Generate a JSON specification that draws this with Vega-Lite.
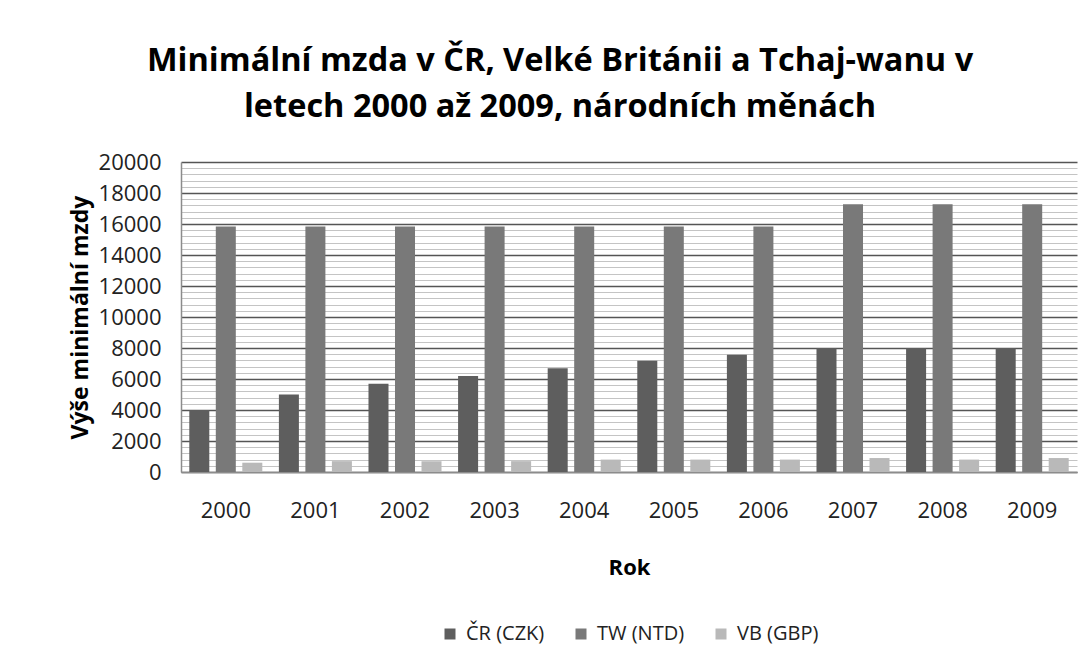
{
  "$schema": "https://vega.github.io/schema/vega-lite/v6.json",
  "autosize": {"type": "none"},
  "width": 896,
  "height": 310,
  "padding": {"left": 181, "top": 162, "right": 13, "bottom": 192},
  "background": "white",
  "title": {
    "text": ["Minimální mzda v ČR, Velké Británii a Tchaj-wanu v", "letech 2000 až 2009, národních měnách"],
    "font": "Open Sans",
    "fontSize": 32.5,
    "fontWeight": "bold",
    "color": "#000000",
    "anchor": "middle",
    "frame": "group",
    "dx": -69,
    "offset": 28,
    "lineHeight": 46
  },
  "data": {
    "values": [
      {"year": "2000", "series": "ČR (CZK)", "value": 4000},
      {"year": "2000", "series": "TW (NTD)", "value": 15840},
      {"year": "2000", "series": "VB (GBP)", "value": 600},
      {"year": "2001", "series": "ČR (CZK)", "value": 5000},
      {"year": "2001", "series": "TW (NTD)", "value": 15840},
      {"year": "2001", "series": "VB (GBP)", "value": 700},
      {"year": "2002", "series": "ČR (CZK)", "value": 5700},
      {"year": "2002", "series": "TW (NTD)", "value": 15840},
      {"year": "2002", "series": "VB (GBP)", "value": 700},
      {"year": "2003", "series": "ČR (CZK)", "value": 6200},
      {"year": "2003", "series": "TW (NTD)", "value": 15840},
      {"year": "2003", "series": "VB (GBP)", "value": 700},
      {"year": "2004", "series": "ČR (CZK)", "value": 6700},
      {"year": "2004", "series": "TW (NTD)", "value": 15840},
      {"year": "2004", "series": "VB (GBP)", "value": 800},
      {"year": "2005", "series": "ČR (CZK)", "value": 7185},
      {"year": "2005", "series": "TW (NTD)", "value": 15840},
      {"year": "2005", "series": "VB (GBP)", "value": 800},
      {"year": "2006", "series": "ČR (CZK)", "value": 7570},
      {"year": "2006", "series": "TW (NTD)", "value": 15840},
      {"year": "2006", "series": "VB (GBP)", "value": 800},
      {"year": "2007", "series": "ČR (CZK)", "value": 8000},
      {"year": "2007", "series": "TW (NTD)", "value": 17280},
      {"year": "2007", "series": "VB (GBP)", "value": 900},
      {"year": "2008", "series": "ČR (CZK)", "value": 8000},
      {"year": "2008", "series": "TW (NTD)", "value": 17280},
      {"year": "2008", "series": "VB (GBP)", "value": 800},
      {"year": "2009", "series": "ČR (CZK)", "value": 8000},
      {"year": "2009", "series": "TW (NTD)", "value": 17280},
      {"year": "2009", "series": "VB (GBP)", "value": 900}
    ]
  },
  "encoding": {
    "x": {
      "field": "year",
      "type": "ordinal",
      "scale": {"paddingInner": 0.185, "paddingOuter": 0.0925},
      "axis": {
        "title": "Rok",
        "labelAngle": 0,
        "labelFont": "Open Sans",
        "labelFontSize": 22,
        "labelColor": "#222222",
        "labelPadding": 28,
        "ticks": false,
        "tickSize": 0,
        "domainColor": "#8c8c8c",
        "domainWidth": 1.5,
        "titleFont": "Open Sans",
        "titleFontSize": 22,
        "titleFontWeight": "bold",
        "titleColor": "#000000",
        "titlePadding": 36,
        "grid": false
      }
    },
    "xOffset": {"field": "series", "type": "nominal", "scale": {"domain": ["ČR (CZK)", "TW (NTD)", "VB (GBP)"], "paddingInner": 0.245, "paddingOuter": 0}},
    "y": {
      "field": "value",
      "type": "quantitative",
      "scale": {"domain": [0, 20000], "nice": false}
    }
  },
  "layer": [
    {
      "mark": {"type": "bar", "opacity": 0},
      "encoding": {
        "y": {
          "field": "value",
          "type": "quantitative",
          "axis": {
            "values": [400, 800, 1200, 1600, 2400, 2800, 3200, 3600, 4400, 4800, 5200, 5600, 6400, 6800, 7200, 7600, 8400, 8800, 9200, 9600, 10400, 10800, 11200, 11600, 12400, 12800, 13200, 13600, 14400, 14800, 15200, 15600, 16400, 16800, 17200, 17600, 18400, 18800, 19200, 19600],
            "labels": false,
            "ticks": false,
            "domain": false,
            "title": null,
            "grid": true,
            "gridColor": "#c4c4c4",
            "gridWidth": 1,
            "gridOpacity": 1,
            "zindex": 0
          }
        }
      }
    },
    {
      "mark": {"type": "bar"},
      "encoding": {
        "y": {
          "field": "value",
          "type": "quantitative",
          "axis": {
            "title": "Výše minimální mzdy",
            "orient": "left",
            "values": [0, 2000, 4000, 6000, 8000, 10000, 12000, 14000, 16000, 18000, 20000],
            "format": "d",
            "labelFont": "Open Sans",
            "labelFontSize": 22,
            "labelColor": "#222222",
            "labelPadding": 20,
            "ticks": false,
            "tickSize": 0,
            "domainColor": "#8c8c8c",
            "domainWidth": 1.5,
            "grid": true,
            "gridColor": "#555555",
            "gridWidth": 1.6,
            "gridOpacity": 1,
            "titleFont": "Open Sans",
            "titleFontSize": 23,
            "titleFontWeight": "bold",
            "titleColor": "#000000",
            "titlePadding": 6,
            "zindex": 0
          }
        },
        "color": {
          "field": "series",
          "type": "nominal",
          "scale": {"domain": ["ČR (CZK)", "TW (NTD)", "VB (GBP)"], "range": ["#5e5e5e", "#797979", "#b9b9b9"]},
          "legend": {
            "title": null,
            "orient": "bottom",
            "direction": "horizontal",
            "symbolType": "square",
            "symbolSize": 121,
            "symbolStrokeWidth": 0,
            "labelFont": "Open Sans",
            "labelFontSize": 20,
            "labelColor": "#222222",
            "columnPadding": 26,
            "labelOffset": 6,
            "offset": 46
          }
        }
      }
    }
  ],
  "resolve": {"axis": {"y": "independent"}},
  "config": {
    "view": {"stroke": null},
    "legend": {"layout": {"bottom": {"anchor": "middle"}}}
  }
}
